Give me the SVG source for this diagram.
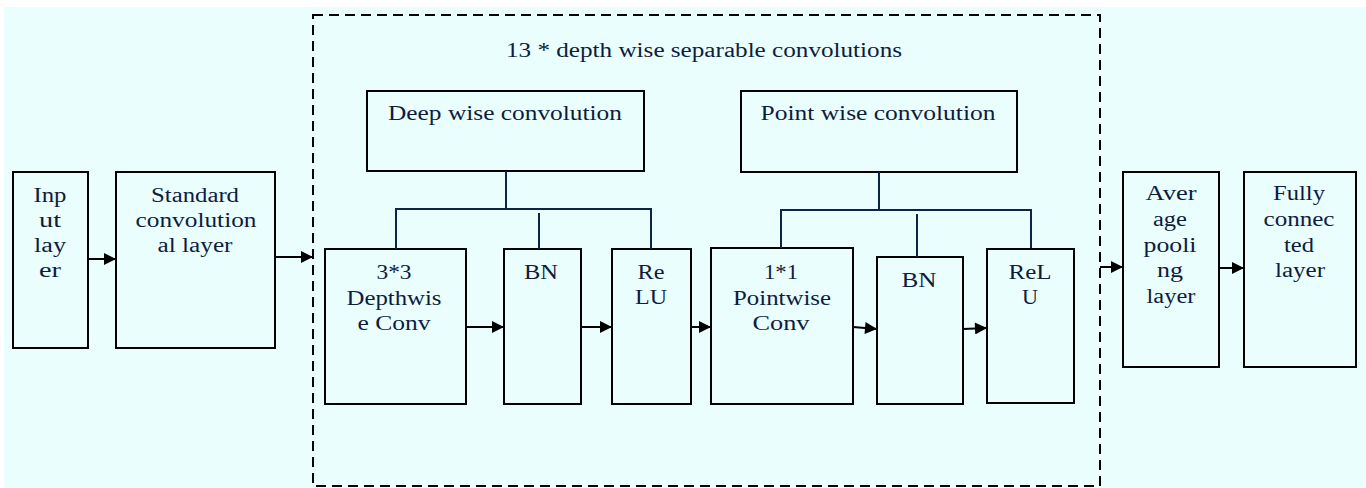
<svg xmlns="http://www.w3.org/2000/svg" width="1366" height="488" viewBox="0 0 1366 488">
<style>
.box{fill:none;stroke:#000;stroke-width:2}
text{font-family:'Liberation Serif','Times New Roman',Times,serif;font-size:20px;fill:#0e1c40;text-anchor:middle}
.ln{fill:none;stroke:#0c2448;stroke-width:2}
.ar{fill:none;stroke:#000;stroke-width:2;marker-end:url(#ah)}
</style>
<defs>
<marker id="ah" viewBox="0 0 10 10" refX="10" refY="5" markerWidth="14" markerHeight="12" markerUnits="userSpaceOnUse" orient="auto">
<path d="M0,0 L10,5 L0,10 z" fill="#000"/>
</marker>
</defs>
<rect width="1366" height="488" fill="#fff"/>
<rect x="4" y="7" width="1362" height="481" fill="#eafefe"/>

<g id="dashed-group">
<rect x="313" y="15" width="787" height="471" fill="none" stroke="#000" stroke-width="2" stroke-dasharray="10,6"/>
<text x="704" y="57" textLength="396" lengthAdjust="spacingAndGlyphs">13 * depth wise separable convolutions</text>
</g>

<g id="input-layer">
<rect class="box" x="13" y="172" width="75" height="176"/>
<text x="50" y="202" textLength="33" lengthAdjust="spacingAndGlyphs">Inp</text>
<text x="50" y="227" textLength="22" lengthAdjust="spacingAndGlyphs">ut</text>
<text x="50" y="252" textLength="32" lengthAdjust="spacingAndGlyphs">lay</text>
<text x="50" y="277" textLength="22" lengthAdjust="spacingAndGlyphs">er</text>
</g>

<g id="standard-conv">
<rect class="box" x="116" y="172" width="159" height="176"/>
<text x="195" y="202" textLength="88" lengthAdjust="spacingAndGlyphs">Standard</text>
<text x="196" y="227" textLength="121" lengthAdjust="spacingAndGlyphs">convolution</text>
<text x="195" y="252" textLength="75" lengthAdjust="spacingAndGlyphs">al layer</text>
</g>

<g id="deep-wise">
<rect class="box" x="367" y="91" width="277" height="80"/>
<text x="505" y="120" textLength="234" lengthAdjust="spacingAndGlyphs">Deep wise convolution</text>
</g>

<g id="point-wise">
<rect class="box" x="741" y="91" width="276" height="81"/>
<text x="878" y="120" textLength="235" lengthAdjust="spacingAndGlyphs">Point wise convolution</text>
</g>

<g id="dw-conv">
<rect class="box" x="325" y="249" width="141" height="155"/>
<text x="394" y="279" textLength="35" lengthAdjust="spacingAndGlyphs">3*3</text>
<text x="394" y="305" textLength="95" lengthAdjust="spacingAndGlyphs">Depthwis</text>
<text x="394" y="330" textLength="73" lengthAdjust="spacingAndGlyphs">e Conv</text>
</g>

<g id="bn1">
<rect class="box" x="504" y="249" width="77" height="155"/>
<text x="541" y="279" textLength="34" lengthAdjust="spacingAndGlyphs">BN</text>
</g>

<g id="relu1">
<rect class="box" x="612" y="249" width="79" height="155"/>
<text x="651" y="279" textLength="27" lengthAdjust="spacingAndGlyphs">Re</text>
<text x="651" y="304" textLength="32" lengthAdjust="spacingAndGlyphs">LU</text>
</g>

<g id="pw-conv">
<rect class="box" x="711" y="248" width="142" height="156"/>
<text x="781" y="279" textLength="34" lengthAdjust="spacingAndGlyphs">1*1</text>
<text x="782" y="305" textLength="98" lengthAdjust="spacingAndGlyphs">Pointwise</text>
<text x="781" y="330" textLength="57" lengthAdjust="spacingAndGlyphs">Conv</text>
</g>

<g id="bn2">
<rect class="box" x="877" y="257" width="86" height="147"/>
<text x="919" y="287" textLength="35" lengthAdjust="spacingAndGlyphs">BN</text>
</g>

<g id="relu2">
<rect class="box" x="987" y="249" width="87" height="154"/>
<text x="1030" y="279" textLength="43" lengthAdjust="spacingAndGlyphs">ReL</text>
<text x="1030" y="304" textLength="16" lengthAdjust="spacingAndGlyphs">U</text>
</g>

<g id="avg-pool">
<rect class="box" x="1123" y="172" width="96" height="195"/>
<text x="1171" y="200" textLength="51" lengthAdjust="spacingAndGlyphs">Aver</text>
<text x="1170" y="226" textLength="34" lengthAdjust="spacingAndGlyphs">age</text>
<text x="1170" y="252" textLength="53" lengthAdjust="spacingAndGlyphs">pooli</text>
<text x="1170" y="277" textLength="26" lengthAdjust="spacingAndGlyphs">ng</text>
<text x="1171" y="303" textLength="49" lengthAdjust="spacingAndGlyphs">layer</text>
</g>

<g id="fully-connected">
<rect class="box" x="1244" y="172" width="112" height="195"/>
<text x="1299" y="200" textLength="52" lengthAdjust="spacingAndGlyphs">Fully</text>
<text x="1299" y="226" textLength="71" lengthAdjust="spacingAndGlyphs">connec</text>
<text x="1299" y="252" textLength="30" lengthAdjust="spacingAndGlyphs">ted</text>
<text x="1300" y="277" textLength="50" lengthAdjust="spacingAndGlyphs">layer</text>
</g>

<g id="connectors">
<path class="ln" d="M506,171 V209 M396,249 V209 H651 V249 M539,213 V249"/>
<path class="ln" d="M879,172 V210 M781,248 V210 H1031 V248 M917,214 V257"/>
<path class="ar" d="M88,259 H116"/>
<path class="ar" d="M275,257 H313"/>
<path class="ar" d="M466,327 H504"/>
<path class="ar" d="M581,327 H612"/>
<path class="ar" d="M691,327 H711"/>
<path class="ar" d="M853,327 L877,329"/>
<path class="ar" d="M963,329 L987,328"/>
<path class="ar" d="M1100,267 H1123"/>
<path class="ar" d="M1219,268 H1244"/>
</g>
</svg>
